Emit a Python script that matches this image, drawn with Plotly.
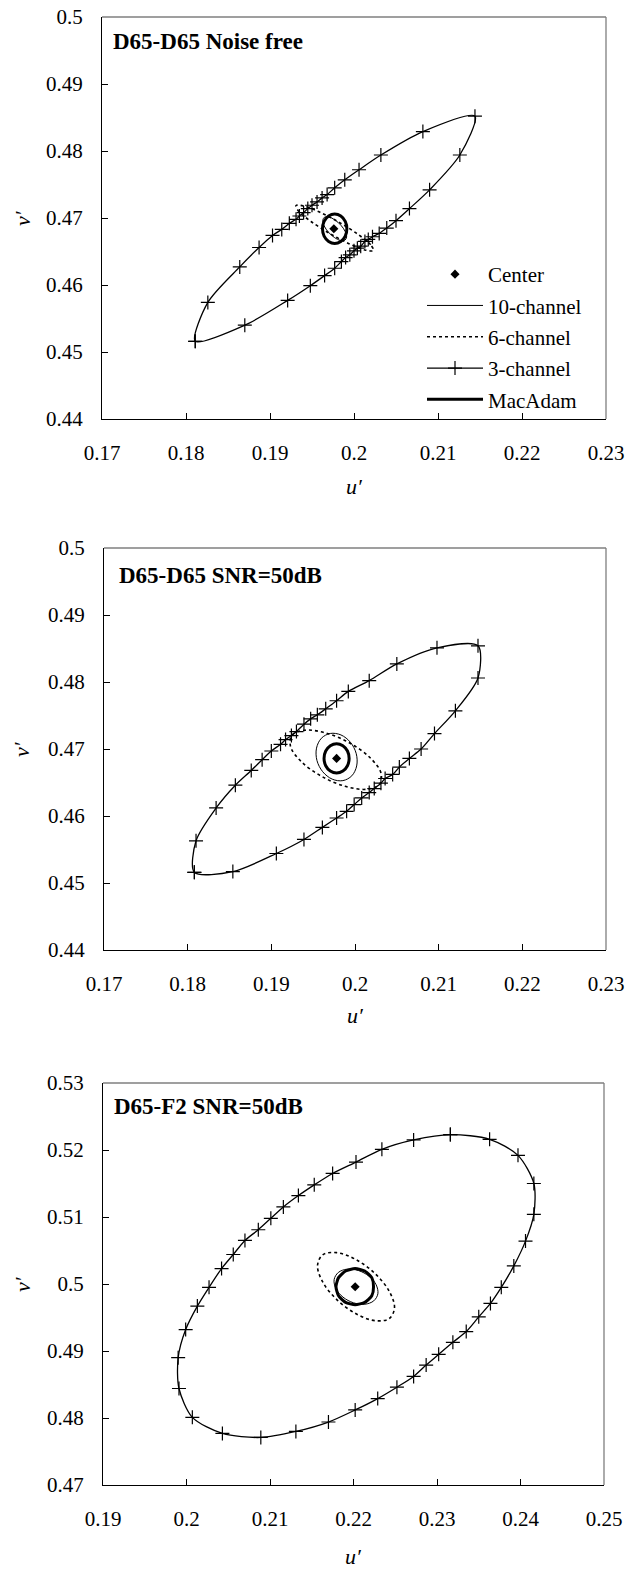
import plotly.graph_objects as go

W, H = 636, 1573
FONT = "Liberation Serif, Times New Roman, serif"

# ---------------- tick labels ----------------
P1_XTICKS = [0.17, 0.18, 0.19, 0.20, 0.21, 0.22, 0.23]
P1_XLABELS = ["0.17", "0.18", "0.19", "0.2", "0.21", "0.22", "0.23"]
P1_YTICKS = [0.44, 0.45, 0.46, 0.47, 0.48, 0.49, 0.50]
P1_YLABELS = ["0.44", "0.45", "0.46", "0.47", "0.48", "0.49", "0.5"]
P3_XTICKS = [0.19, 0.20, 0.21, 0.22, 0.23, 0.24, 0.25]
P3_XLABELS = ["0.19", "0.2", "0.21", "0.22", "0.23", "0.24", "0.25"]
P3_YTICKS = [0.47, 0.48, 0.49, 0.50, 0.51, 0.52, 0.53]
P3_YLABELS = ["0.47", "0.48", "0.49", "0.5", "0.51", "0.52", "0.53"]

TITLES = ["D65-D65 Noise free", "D65-D65 SNR=50dB", "D65-F2 SNR=50dB"]
SERIES = ["Center", "10-channel", "6-channel", "3-channel", "MacAdam"]

# ---------------- panel 1 : D65-D65 noise free ----------------
p1_center_u = [0.1976]
p1_center_v = [0.4684]
p1_ch10_u = [0.19891, 0.19912, 0.19895, 0.19844, 0.19773, 0.19702, 0.19649, 0.19628, 0.19645, 0.19696, 0.19767, 0.19838, 0.19891]
p1_ch10_v = [0.46668, 0.46717, 0.46799, 0.46892, 0.46971, 0.47015, 0.47012, 0.46963, 0.46881, 0.46788, 0.46709, 0.46665, 0.46668]
p1_ch6_u = [0.20231, 0.20198, 0.20052, 0.19829, 0.19590, 0.19400, 0.19309, 0.19342, 0.19488, 0.19711, 0.19950, 0.20140, 0.20231]
p1_ch6_v = [0.46515, 0.46600, 0.46752, 0.46931, 0.47088, 0.47180, 0.47185, 0.47100, 0.46948, 0.46769, 0.46612, 0.46520, 0.46515]
p1_ch3_u = [0.1811, 0.1826, 0.1864, 0.1887, 0.1903, 0.1914, 0.1923, 0.1931, 0.1935, 0.1940, 0.1945, 0.1950, 0.1956,
            0.1962, 0.1968, 0.1977, 0.1989, 0.2006, 0.2032, 0.2082, 0.2144, 0.2126, 0.2090, 0.2066, 0.2050, 0.2039,
            0.2030, 0.2022, 0.2017, 0.2013, 0.2008, 0.2004, 0.2000, 0.1995, 0.1990, 0.1985, 0.1977, 0.1965, 0.1948,
            0.1921, 0.1870, 0.1811]
p1_ch3_v = [0.4516, 0.4574, 0.4627, 0.4656, 0.4674, 0.4683, 0.4692, 0.4698, 0.4703, 0.4708, 0.4714, 0.4719, 0.4724,
            0.4730, 0.4735, 0.4745, 0.4757, 0.4772, 0.4794, 0.4829, 0.4852, 0.4794, 0.4742, 0.4714, 0.4696, 0.4685,
            0.4677, 0.4672, 0.4668, 0.4665, 0.4658, 0.4655, 0.4651, 0.4645, 0.4641, 0.4635, 0.4625, 0.4614, 0.4599,
            0.4577, 0.4540, 0.4516]
p1_mac_u = [0.19915, 0.19896, 0.19843, 0.19770, 0.19698, 0.19644, 0.19625, 0.19644, 0.19698, 0.19770, 0.19843, 0.19896, 0.19915]
p1_mac_v = [0.46840, 0.46950, 0.47031, 0.47060, 0.47031, 0.46950, 0.46840, 0.46730, 0.46650, 0.46620, 0.46650, 0.46730, 0.46840]

# ---------------- panel 2 : D65-D65 SNR=50dB ----------------
p2_center_u = [0.1978]
p2_center_v = [0.4686]
p2_ch10_u = [0.19855, 0.19962, 0.20020, 0.20015, 0.19946, 0.19832, 0.19705, 0.19598, 0.19540, 0.19545, 0.19614, 0.19728, 0.19855]
p2_ch10_v = [0.46528, 0.46600, 0.46747, 0.46930, 0.47099, 0.47210, 0.47232, 0.47160, 0.47013, 0.46830, 0.46661, 0.46550, 0.46528]
p2_ch6_u = [0.20294, 0.20310, 0.20181, 0.19942, 0.19657, 0.19402, 0.19246, 0.19230, 0.19359, 0.19598, 0.19883, 0.20138, 0.20294]
p2_ch6_v = [0.46473, 0.46645, 0.46869, 0.47086, 0.47237, 0.47281, 0.47207, 0.47035, 0.46811, 0.46594, 0.46443, 0.46399, 0.46473]
p2_ch3_u = [0.1808, 0.1810, 0.1834, 0.1857, 0.1876, 0.1889, 0.1900, 0.1911, 0.1917, 0.1924, 0.1930, 0.1939, 0.1947,
            0.1955, 0.1965, 0.1978, 0.1992, 0.2017, 0.2050, 0.2098, 0.2147, 0.2147, 0.2120, 0.2095, 0.2079, 0.2065,
            0.2053, 0.2045, 0.2036, 0.2031, 0.2023, 0.2017, 0.2008, 0.1999, 0.1990, 0.1978, 0.1961, 0.1939, 0.1906,
            0.1854, 0.1808]
p2_ch3_v = [0.4516, 0.4563, 0.4612, 0.4646, 0.4668, 0.4684, 0.4697, 0.4707, 0.4714, 0.4720, 0.4726, 0.4737, 0.4745,
            0.4751, 0.4760, 0.4772, 0.4786, 0.4802, 0.4827, 0.4851, 0.4854, 0.4806, 0.4757, 0.4723, 0.4700, 0.4686,
            0.4673, 0.4662, 0.4656, 0.4649, 0.4641, 0.4635, 0.4627, 0.4617, 0.4607, 0.4597, 0.4583, 0.4565, 0.4544,
            0.4517, 0.4516]
p2_mac_u = [0.1993, 0.1991, 0.19855, 0.1978, 0.19705, 0.1965, 0.1963, 0.1965, 0.19705, 0.1978, 0.19855, 0.1991, 0.1993]
p2_mac_v = [0.4686, 0.4697, 0.4705, 0.4708, 0.4705, 0.4697, 0.4686, 0.4675, 0.4667, 0.4664, 0.4667, 0.4675, 0.4686]

# ---------------- panel 3 : D65-F2 SNR=50dB ----------------
p3_center_u = [0.2202]
p3_center_v = [0.4996]
p3_ch10_u = [0.22242, 0.22292, 0.22271, 0.22186, 0.22059, 0.21924, 0.21818, 0.21768, 0.21789, 0.21874, 0.22001, 0.22136, 0.22242]
p3_ch10_v = [0.49748, 0.49854, 0.49989, 0.50116, 0.50201, 0.50222, 0.50172, 0.50066, 0.49931, 0.49804, 0.49719, 0.49698, 0.49748]
p3_ch6_u = [0.22429, 0.22491, 0.22429, 0.22260, 0.22029, 0.21799, 0.21631, 0.21569, 0.21631, 0.21800, 0.22031, 0.22261, 0.22429]
p3_ch6_v = [0.49485, 0.49646, 0.49889, 0.50153, 0.50365, 0.50468, 0.50435, 0.50274, 0.50031, 0.49767, 0.49555, 0.49452, 0.49485]
p3_ch3_u = [0.2316, 0.2363, 0.2397, 0.2416, 0.2416, 0.2406, 0.2392, 0.2377, 0.2364, 0.2350, 0.2335, 0.2319, 0.2302,
            0.2287, 0.2272, 0.2252, 0.2229, 0.2202, 0.2170, 0.2131, 0.2089, 0.2043, 0.2007, 0.1991, 0.1990, 0.1999,
            0.2013, 0.2027, 0.2042, 0.2056, 0.2070, 0.2086, 0.2101, 0.2116, 0.2134, 0.2153, 0.2175, 0.2203, 0.2234,
            0.2272, 0.2316]
p3_ch3_v = [0.5223, 0.5216, 0.5192, 0.5150, 0.5104, 0.5064, 0.5027, 0.4995, 0.4971, 0.4951, 0.4929, 0.4913, 0.4895,
            0.4879, 0.4862, 0.4846, 0.4829, 0.4812, 0.4794, 0.4780, 0.4771, 0.4777, 0.4801, 0.4844, 0.4890, 0.4932,
            0.4967, 0.4995, 0.5023, 0.5044, 0.5065, 0.5081, 0.5098, 0.5115, 0.5132, 0.5148, 0.5165, 0.5182, 0.5201,
            0.5215, 0.5223]
p3_mac_u = [0.22240, 0.22219, 0.22135, 0.22020, 0.21905, 0.21821, 0.21790, 0.21821, 0.21905, 0.22020, 0.22135, 0.22219, 0.22240]
p3_mac_v = [0.49960, 0.50095, 0.50194, 0.50230, 0.50194, 0.50095, 0.49960, 0.49825, 0.49726, 0.49690, 0.49726, 0.49825, 0.49960]

panels = [
    dict(data=dict(center=(p1_center_u, p1_center_v), ch10=(p1_ch10_u, p1_ch10_v), ch6=(p1_ch6_u, p1_ch6_v),
                   ch3=(p1_ch3_u, p1_ch3_v), mac=(p1_mac_u, p1_mac_v)),
         xt=(P1_XTICKS, P1_XLABELS), yt=(P1_YTICKS, P1_YLABELS),
         box=(102, 606, 17, 419), title_xy=(111, 41), utitle=486),
    dict(data=dict(center=(p2_center_u, p2_center_v), ch10=(p2_ch10_u, p2_ch10_v), ch6=(p2_ch6_u, p2_ch6_v),
                   ch3=(p2_ch3_u, p2_ch3_v), mac=(p2_mac_u, p2_mac_v)),
         xt=(P1_XTICKS, P1_XLABELS), yt=(P1_YTICKS, P1_YLABELS),
         box=(104, 606, 548, 950), title_xy=(117, 575), utitle=1016),
    dict(data=dict(center=(p3_center_u, p3_center_v), ch10=(p3_ch10_u, p3_ch10_v), ch6=(p3_ch6_u, p3_ch6_v),
                   ch3=(p3_ch3_u, p3_ch3_v), mac=(p3_mac_u, p3_mac_v)),
         xt=(P3_XTICKS, P3_XLABELS), yt=(P3_YTICKS, P3_YLABELS),
         box=(103, 604, 1083, 1485), title_xy=(112, 1106), utitle=1556),
]

fig = go.Figure()
annotations = []
shapes = []

for i, p in enumerate(panels):
    n = "" if i == 0 else str(i + 1)
    xa, ya = "x" + n, "y" + n
    d = p["data"]
    show = i == 0
    fig.add_trace(go.Scatter(x=d["ch3"][0], y=d["ch3"][1], mode="lines+markers", name=SERIES[3],
                             line=dict(color="black", width=1.3, shape="spline", smoothing=0.8),
                             marker=dict(symbol="cross-thin", size=10, line=dict(color="black", width=1.2)),
                             xaxis=xa, yaxis=ya, showlegend=show, legendrank=4, legendgroup="g3"))
    fig.add_trace(go.Scatter(x=d["ch6"][0], y=d["ch6"][1], mode="lines", name=SERIES[2],
                             line=dict(color="black", width=1.6, dash="dot", shape="spline", smoothing=1),
                             xaxis=xa, yaxis=ya, showlegend=show, legendrank=3, legendgroup="g2"))
    fig.add_trace(go.Scatter(x=d["ch10"][0], y=d["ch10"][1], mode="lines", name=SERIES[1],
                             line=dict(color="black", width=1.0, shape="spline", smoothing=1),
                             xaxis=xa, yaxis=ya, showlegend=show, legendrank=2, legendgroup="g1"))
    fig.add_trace(go.Scatter(x=d["mac"][0], y=d["mac"][1], mode="lines", name=SERIES[4],
                             line=dict(color="black", width=3, shape="spline", smoothing=0.6),
                             xaxis=xa, yaxis=ya, showlegend=show, legendrank=5, legendgroup="g4"))
    fig.add_trace(go.Scatter(x=d["center"][0], y=d["center"][1], mode="markers", name=SERIES[0],
                             marker=dict(symbol="diamond", size=7, color="black"),
                             xaxis=xa, yaxis=ya, showlegend=show, legendrank=1, legendgroup="g0"))

    l, r, t, b = p["box"]
    xdom = [l / W, r / W]
    ydom = [1 - b / H, 1 - t / H]
    xt, xl = p["xt"]
    yt, yl = p["yt"]
    axcommon = dict(showgrid=False, zeroline=False, showline=True, linecolor="black", linewidth=1.3,
                    ticks="inside", ticklen=6, tickcolor="black", tickwidth=1, mirror=False,
                    automargin=False, tickfont=dict(family=FONT, size=21, color="black"))
    fig.update_layout(**{
        ("xaxis" + n): dict(domain=xdom, range=[xt[0], xt[-1]], tickmode="array", tickvals=xt, ticktext=xl,
                            anchor=ya, ticklabelstandoff=15, **axcommon),
        ("yaxis" + n): dict(domain=ydom, range=[yt[0], yt[-1]], tickmode="array", tickvals=yt, ticktext=yl,
                            anchor=xa, ticklabelstandoff=14, **axcommon),
    })
    shapes.append(dict(type="line", xref="paper", yref="paper", x0=l / W, x1=r / W, y0=1 - t / H, y1=1 - t / H,
                       line=dict(color="#7f7f7f", width=1.3)))
    shapes.append(dict(type="line", xref="paper", yref="paper", x0=r / W, x1=r / W, y0=1 - t / H, y1=1 - b / H,
                       line=dict(color="#7f7f7f", width=1.3)))
    tx, ty = p["title_xy"]
    annotations.append(dict(text="<b>" + TITLES[i] + "</b>", x=tx / W, y=1 - ty / H, xref="paper", yref="paper",
                            xanchor="left", yanchor="middle", showarrow=False,
                            font=dict(family=FONT, size=23, color="black")))
    annotations.append(dict(text="<i>u′</i>", x=((l + r) / 2) / W, y=1 - p["utitle"] / H, xref="paper", yref="paper",
                            xanchor="center", yanchor="middle", showarrow=False,
                            font=dict(family=FONT, size=22, color="black")))
    annotations.append(dict(text="<i>v′</i>", x=22 / W, y=1 - ((t + b) / 2) / H, xref="paper", yref="paper",
                            xanchor="center", yanchor="middle", showarrow=False, textangle=-90,
                            font=dict(family=FONT, size=22, color="black")))

fig.update_layout(
    width=W, height=H,
    margin=dict(l=0, r=0, t=0, b=0, autoexpand=False),
    paper_bgcolor="white", plot_bgcolor="white",
    font=dict(family=FONT, size=21, color="black"),
    showlegend=True,
    legend=dict(x=422 / W, y=1 - 254 / H, xanchor="left", yanchor="top",
                bgcolor="rgba(0,0,0,0)", font=dict(family=FONT, size=21, color="black"),
                itemwidth=56, tracegroupgap=1),
    annotations=annotations,
    shapes=shapes,
)

fig.write_html("out.html")
